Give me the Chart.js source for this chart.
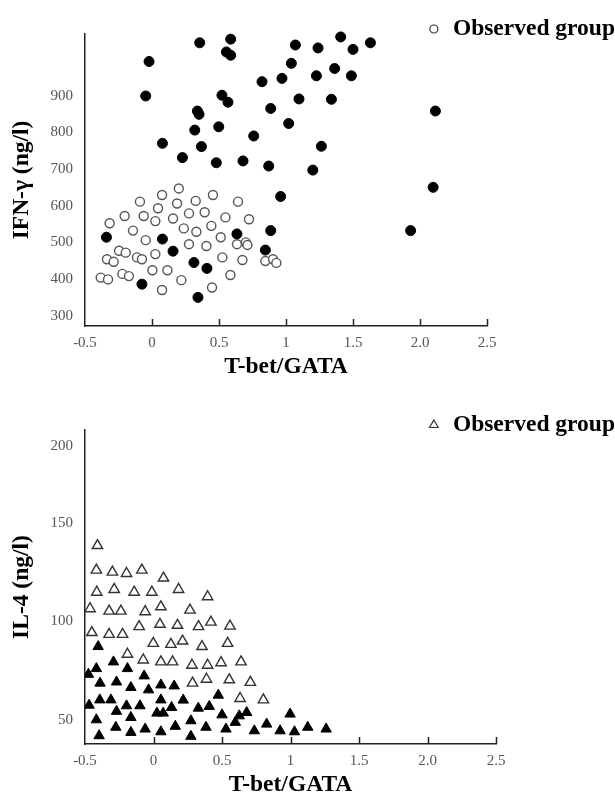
<!DOCTYPE html>
<html>
<head>
<meta charset="utf-8">
<script src="https://cdn.jsdelivr.net/npm/chart.js@4.4.1/dist/chart.umd.min.js"></script>
<style>
  html, body { margin: 0; padding: 0; background: #fff; overflow: hidden; }
  #box1 { position: absolute; left: 0; top: 0; }
  #box2 { position: absolute; left: 0; top: 390px; }
</style>
</head>
<body>
<div id="box1"><canvas id="ifnChart" width="615" height="390"></canvas></div>
<div id="box2"><canvas id="il4Chart" width="615" height="407"></canvas></div>
<script>
// x axis (both panels)
const xTickValues = [-0.5, 0, 0.5, 1, 1.5, 2, 2.5];
const xTickLabels = ["-0.5", "0", "0.5", "1", "1.5", "2.0", "2.5"];

// top panel: IFN-gamma
const ifnTickValues = [300, 400, 500, 600, 700, 800, 900];
const ifnObsX = [0.20, 0.075, 0.455, -0.09, 0.187, 0.326, 0.642, 0.045, 0.393, 0.276, -0.204, -0.062, 0.157, 0.025, 0.548, 0.724, -0.316, 0.443, 0.237, -0.142, 0.331, 0.513, -0.047, 0.276, 0.406, 0.634, 0.70, 0.712, 0.025, -0.246, -0.196, -0.112, -0.075, -0.336, -0.286, 0.525, 0.675, 0.846, 0.903, 0.928, 0.003, 0.115, -0.221, -0.172, -0.383, -0.328, 0.219, 0.585, 0.075, 0.448];
const ifnObsY = [647, 629, 629, 611, 606, 613, 611, 593, 582, 579, 572, 572, 565, 558, 568, 563, 552, 545, 538, 532, 529, 514, 506, 495, 490, 495, 500, 493, 468, 477, 472, 459, 454, 454, 447, 459, 452, 449, 454, 444, 424, 424, 414, 408, 404, 399, 397, 411, 370, 377];
const ifnCtrlX = [0.356, 0.587, 0.555, 0.587, -0.022, -0.047, 0.522, 0.567, 0.339, 0.351, 0.319, 0.498, 0.078, 0.369, 0.227, 0.48, 0.679, 0.759, 0.821, 1.408, 1.63, 1.07, 1.239, 1.5, 1.04, 0.97, 1.227, 1.363, 1.488, 1.097, 1.339, 0.886, 2.115, 1.02, 1.264, 0.871, 1.2, 2.098, 1.93, 0.96, -0.34, 0.078, 0.157, 0.313, 0.41, -0.075, 0.343, 0.634, 0.886, 0.846];
const ifnCtrlY = [1044, 1054, 1019, 1010, 993, 899, 901, 882, 858, 849, 806, 815, 770, 761, 731, 717, 722, 790, 938, 1060, 1044, 1038, 1030, 1026, 988, 947, 954, 974, 954, 891, 890, 865, 858, 824, 762, 708, 697, 650, 532, 625, 514, 509, 476, 445, 429, 386, 350, 523, 532, 479];

// bottom panel: IL-4 (the "200" label sits lower than a linear axis would put it)
const il4TickValues = [50, 100, 150, 189];
const il4TickLabels = ["50", "100", "150", "200"];
const il4ObsX = [-0.409, -0.417, -0.30, -0.197, -0.085, 0.073, -0.414, -0.287, -0.141, -0.012, 0.183, 0.395, -0.463, -0.324, -0.238, -0.061, 0.054, 0.266, -0.45, -0.324, -0.226, -0.105, 0.047, 0.175, 0.329, 0.419, 0.558, -0.002, 0.127, 0.212, 0.354, 0.541, -0.19, -0.075, 0.054, 0.139, 0.281, 0.395, 0.493, 0.639, 0.285, 0.387, 0.553, 0.707, 0.632, 0.802];
const il4ObsY = [138.5, 126, 125, 124.3, 126, 122, 114.8, 116.2, 114.8, 114.8, 116.2, 112.5, 106.4, 105.2, 105.2, 104.9, 107.4, 105.7, 94.3, 93.4, 93.4, 97.3, 98.5, 98, 97.3, 99.6, 97.6, 88.8, 88.3, 90, 87.2, 88.8, 83.3, 80.4, 79.4, 79.4, 77.7, 77.7, 79, 79.4, 68.6, 70.6, 70.3, 69, 60.8, 60.1];
const il4CtrlX = [-0.404, -0.417, -0.292, -0.19, -0.068, -0.475, -0.39, -0.27, -0.165, -0.036, 0.054, 0.151, 0.473, -0.47, -0.392, -0.311, -0.197, -0.099, 0.054, 0.217, 0.132, 0.025, 0.071, 0.327, 0.407, -0.27, -0.165, -0.417, 0.273, 0.5, 0.597, -0.275, -0.165, -0.061, 0.054, 0.159, 0.383, 0.529, -0.397, 0.273, 0.68, 0.626, 0.997, 0.826, 0.736, 0.924, 1.029, 1.126, 1.26];
const il4CtrlY = [87.2, 76, 79.4, 76, 72.3, 73.1, 68.6, 69.2, 66.4, 65.2, 67.7, 67.2, 62.5, 57.4, 60.1, 60.1, 57.1, 57.1, 60.1, 60, 56.3, 53.4, 53.4, 55.9, 56.8, 54.3, 51.2, 50, 49.5, 52.5, 48.7, 46.2, 43.6, 45.3, 43.9, 46.7, 46.2, 45.3, 41.9, 41.6, 53.7, 52, 52.9, 47.8, 44.4, 44.4, 43.9, 46.2, 45.3];

const pts = (xs, ys) => xs.map((x, i) => ({ x: x, y: ys[i] }));

const serif = '"Liberation Serif", "Times New Roman", serif';
const tickFont = { family: serif, size: 15 };
const titleFont = { family: serif, size: 23.5, weight: "bold" };

// short tick marks pointing up into the plot
const innerTicks = {
  id: "innerTicks",
  afterDraw(chart) {
    const ctx = chart.ctx, xs = chart.scales.x, bottom = chart.chartArea.bottom;
    ctx.save();
    ctx.strokeStyle = "#222";
    ctx.lineWidth = 1.5;
    xTickValues.slice(1).forEach(v => {
      const px = Math.round(xs.getPixelForValue(v)) + 0.5;
      ctx.beginPath();
      ctx.moveTo(px, bottom);
      ctx.lineTo(px, bottom - 7);
      ctx.stroke();
    });
    ctx.restore();
  }
};

// single legend entry in the upper right, cut by the page edge like the figure
const cornerLegend = {
  id: "cornerLegend",
  afterDraw(chart, args, opts) {
    const ctx = chart.ctx;
    ctx.save();
    ctx.font = "bold 23.5px " + serif;
    ctx.fillStyle = "#000";
    ctx.textBaseline = "middle";
    const w = ctx.measureText(opts.text).width;
    const tx = opts.right - w;
    ctx.fillText(opts.text, tx, opts.y);
    ctx.fillStyle = "#fff";
    ctx.strokeStyle = "#333";
    ctx.lineWidth = 1.2;
    Chart.helpers.drawPoint(ctx, { pointStyle: opts.pointStyle, radius: opts.radius, borderWidth: 1.2, rotation: 0 }, tx - 19, opts.y);
    ctx.restore();
  }
};

function makeScales(yMin, yMax, yTicks, yLabels, yTitle) {
  return {
    x: {
      type: "linear",
      min: -0.5,
      max: 2.5,
      afterBuildTicks: s => { s.ticks = xTickValues.map(v => ({ value: v })); },
      afterFit: s => { s.height = 52; },
      grid: { display: false, drawTicks: false },
      border: { display: true, color: "#222", width: 1.5 },
      ticks: {
        font: tickFont,
        color: "#555",
        padding: 8,
        maxRotation: 0,
        autoSkip: false,
        callback: (v, i) => xTickLabels[i]
      },
      title: { display: true, text: "T-bet/GATA", font: titleFont, color: "#000", padding: { top: 0, bottom: -3 } }
    },
    y: {
      type: "linear",
      min: yMin,
      max: yMax,
      afterBuildTicks: s => { s.ticks = yTicks.map(v => ({ value: v })); },
      afterFit: s => { s.width = 85; },
      grid: { display: false, drawTicks: false },
      border: { display: true, color: "#222", width: 1.5 },
      ticks: {
        font: tickFont,
        color: "#555",
        padding: 12,
        autoSkip: false,
        callback: (v, i) => yLabels[i]
      },
      title: { display: true, text: yTitle, font: titleFont, color: "#000", padding: { top: 8, bottom: 0 } }
    }
  };
}

const clipBox = { left: 0, top: 8, right: 8, bottom: 8 };

new Chart(document.getElementById("ifnChart"), {
  type: "scatter",
  data: {
    datasets: [
      {
        label: "Control group",
        data: pts(ifnCtrlX, ifnCtrlY),
        pointStyle: "circle",
        pointRadius: 5,
        backgroundColor: "#000",
        borderColor: "#000",
        borderWidth: 1,
        clip: clipBox
      },
      {
        label: "Observed group",
        data: pts(ifnObsX, ifnObsY),
        pointStyle: "circle",
        pointRadius: 4.5,
        backgroundColor: "#fff",
        borderColor: "#555",
        borderWidth: 1.4,
        clip: clipBox
      }
    ]
  },
  options: {
    responsive: false,
    animation: false,
    events: [],
    layout: { padding: { left: 0, top: 34, right: 128, bottom: 12 } },
    scales: makeScales(272, 1068, ifnTickValues, ifnTickValues.map(String), "IFN-\u03b3 (ng/l)"),
    plugins: {
      legend: { display: false },
      tooltip: { enabled: false },
      cornerLegend: { text: "Observed group", right: 615, y: 29, pointStyle: "circle", radius: 4 }
    }
  },
  plugins: [innerTicks, cornerLegend]
});

new Chart(document.getElementById("il4Chart"), {
  type: "scatter",
  data: {
    datasets: [
      {
        label: "Control group",
        data: pts(il4CtrlX, il4CtrlY),
        pointStyle: "triangle",
        pointRadius: 6,
        backgroundColor: "#000",
        borderColor: "#000",
        borderWidth: 1,
        clip: clipBox
      },
      {
        label: "Observed group",
        data: pts(il4ObsX, il4ObsY),
        pointStyle: "triangle",
        pointRadius: 6,
        backgroundColor: "#fff",
        borderColor: "#333",
        borderWidth: 1.4,
        clip: clipBox
      }
    ]
  },
  options: {
    responsive: false,
    animation: false,
    events: [],
    layout: { padding: { left: 0, top: 40, right: 119, bottom: 1 } },
    scales: makeScales(37.7, 197.2, il4TickValues, il4TickLabels, "IL-4 (ng/l)"),
    plugins: {
      legend: { display: false },
      tooltip: { enabled: false },
      cornerLegend: { text: "Observed group", right: 615, y: 35, pointStyle: "triangle", radius: 5 }
    }
  },
  plugins: [innerTicks, cornerLegend]
});
</script>
</body>
</html>
